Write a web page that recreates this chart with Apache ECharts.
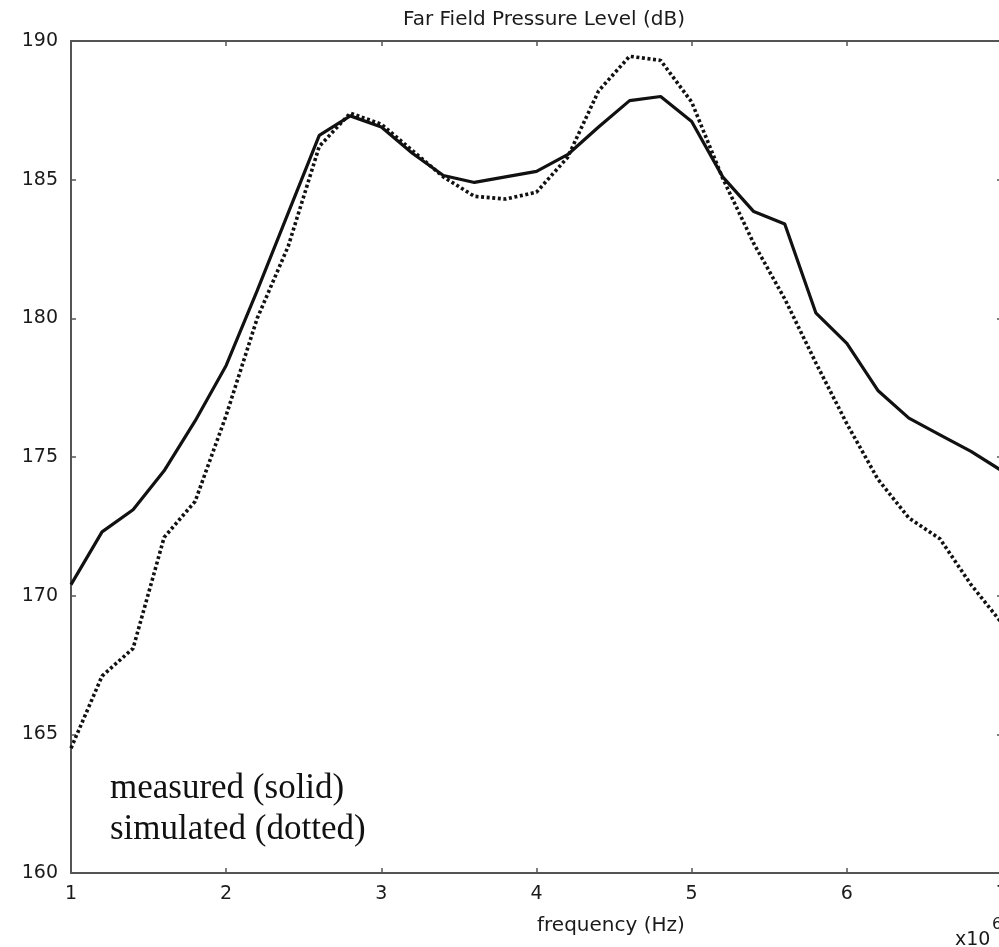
<!DOCTYPE html>
<html>
<head>
<meta charset="utf-8">
<script src="https://cdn.jsdelivr.net/npm/echarts@6/dist/echarts.min.js"></script>
<style>html,body{margin:0;padding:0;background:#fff}#c{width:999px;height:947px}</style>
</head>
<body>
<div id="c"></div>
<script>
var freq = [1.0,1.2,1.4,1.6,1.8,2.0,2.2,2.4,2.6,2.8,3.0,3.2,3.4,3.6,3.8,4.0,4.2,4.4,4.6,4.8,5.0,5.2,5.4,5.6,5.8,6.0,6.2,6.4,6.6,6.8,7.0];
var measured = [170.4,172.3,173.1,174.5,176.3,178.3,181.0,183.8,186.6,187.3,186.9,185.95,185.15,184.9,185.1,185.3,185.9,186.9,187.85,188.0,187.1,185.1,183.85,183.4,180.2,179.1,177.4,176.4,175.8,175.2,174.5];
var simulated = [164.5,167.1,168.1,172.1,173.4,176.5,180.0,182.6,186.2,187.4,187.0,186.05,185.1,184.4,184.3,184.55,185.8,188.2,189.45,189.3,187.8,185.05,182.7,180.7,178.4,176.2,174.2,172.8,172.05,170.4,169.0];
var xTicks = [1,2,3,4,5,6,7];
var yTicks = [160,165,170,175,180,185,190];
var titleText = 'Far Field Pressure Level (dB)';
var xName = 'frequency (Hz)';
var legendLines = ['measured (solid)', 'simulated (dotted)'];

function pairs(xs, ys){ return xs.map(function(x,i){ return [x, ys[i]]; }); }

var chart = echarts.init(document.getElementById('c'));
var axisCol = '#555';
var labelFont = 'DejaVu Sans';
chart.setOption({
  animation: false,
  backgroundColor: '#fff',
  title: {
    text: titleText, left: 539, top: 5, textAlign: 'center',
    textStyle: {fontFamily: labelFont, fontSize: 20, fontWeight: 'normal', color: '#1a1a1a'}
  },
  grid: {left: 71, top: 41, width: 931, bottom: 74, containLabel: false, outerBoundsMode: 'none'},
  xAxis: [{
    type: 'value', min: xTicks[0], max: xTicks[xTicks.length-1], interval: 1, position: 'bottom',
    axisLine: {onZero: false, lineStyle: {color: axisCol, width: 2}},
    axisTick: {inside: true, length: 5, lineStyle: {color: axisCol, width: 1.5}},
    axisLabel: {fontFamily: labelFont, fontSize: 19, color: '#1a1a1a', margin: 12, showMaxLabel: true},
    splitLine: {show: false}
  },{
    type: 'value', min: xTicks[0], max: xTicks[xTicks.length-1], interval: 1, position: 'top',
    axisLine: {onZero: false, lineStyle: {color: axisCol, width: 2}},
    axisTick: {inside: true, length: 5, lineStyle: {color: axisCol, width: 1.5}},
    axisLabel: {show: false}, splitLine: {show: false}
  }],
  yAxis: [{
    type: 'value', min: yTicks[0], max: yTicks[yTicks.length-1], interval: 5, position: 'left',
    axisLine: {onZero: false, lineStyle: {color: axisCol, width: 2}},
    axisTick: {inside: true, length: 5, lineStyle: {color: axisCol, width: 1.5}},
    axisLabel: {fontFamily: labelFont, fontSize: 19, color: '#1a1a1a', margin: 13},
    splitLine: {show: false}
  },{
    type: 'value', min: yTicks[0], max: yTicks[yTicks.length-1], interval: 5, position: 'right',
    axisLine: {onZero: false, lineStyle: {color: axisCol, width: 2}},
    axisTick: {inside: true, length: 5, lineStyle: {color: axisCol, width: 1.5}},
    axisLabel: {show: false}, splitLine: {show: false}
  }],
  series: [{
    name: 'measured', type: 'line', data: pairs(freq, measured), symbol: 'none',
    lineStyle: {color: '#111', width: 3.2, type: 'solid'}, z: 3
  },{
    name: 'simulated', type: 'line', data: pairs(freq, simulated), symbol: 'none',
    lineStyle: {color: '#111', width: 3.6, type: [3, 2.6], cap: 'butt'}, z: 2
  }],
  graphic: [
    {type: 'text', left: 537, top: 916, style: {text: xName, fontFamily: labelFont, fontSize: 20, fill: '#1a1a1a', textAlign: 'center'}},
    {type: 'text', left: 955, top: 931, style: {text: 'x10', fontFamily: labelFont, fontSize: 19, fill: '#1a1a1a'}},
    {type: 'text', left: 992, top: 917, style: {text: '6', fontFamily: labelFont, fontSize: 16, fill: '#1a1a1a'}},
    {type: 'text', left: 110, top: 771, style: {text: legendLines[0], fontFamily: 'Liberation Serif', fontSize: 35, fill: '#111'}},
    {type: 'text', left: 110, top: 812, style: {text: legendLines[1], fontFamily: 'Liberation Serif', fontSize: 35, fill: '#111'}}
  ]
});
</script>
</body>
</html>
